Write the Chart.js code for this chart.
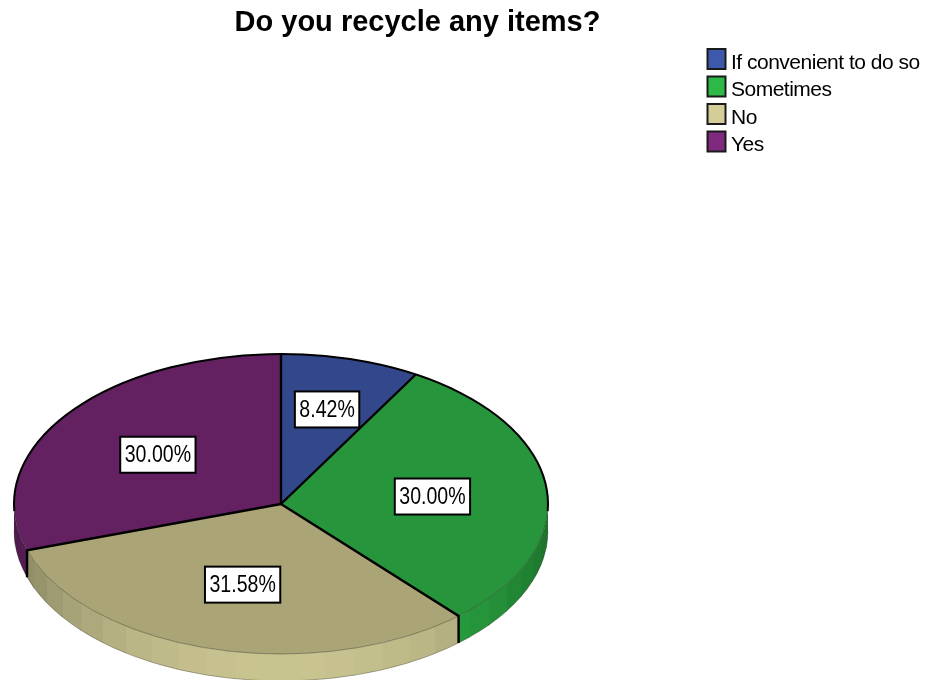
<!DOCTYPE html>
<html>
<head>
<meta charset="utf-8">
<title>Do you recycle any items?</title>
<script src="https://cdn.jsdelivr.net/npm/chart.js@4"></script>
<style>
  html, body { margin: 0; padding: 0; background: #fff; }
  #wrap { position: relative; width: 925px; height: 680px; overflow: hidden; }
</style>
</head>
<body>
<div id="wrap"><canvas id="reciclagemChart" width="925" height="680"></canvas></div>
<script>
const categorias = ['If convenient to do so', 'Sometimes', 'No', 'Yes'];
const percentuais = [8.42, 30.00, 31.58, 30.00];
const coresFatia = ['#32488a', '#26953c', '#aba476', '#632162'];
const coresLegenda = ['#3e58ac', '#2eb848', '#d3ce97', '#7f2a7e'];
const distRotulo = [0.66, 0.57, 0.55, 0.57];

// Geometria do disco inclinado
const disco = { x: 281, y: 504, rx: 267, ry: 150, altura: 27 };
const FONTE = '"Liberation Sans", Arial, sans-serif';
const PASSO_FACETA = Math.PI / 28;
const LEG_PADDING = 6.5;
const LEG_ALTURA_ITEM = 21;

function sombrear(hex, f) {
  const n = parseInt(hex.slice(1), 16);
  const c = [n >> 16, (n >> 8) & 255, n & 255].map(v => Math.round(v * f));
  return `rgb(${c[0]},${c[1]},${c[2]})`;
}

// Luz vem de frente: lateral escurece nas pontas do disco
function luzLateral(a) {
  return 0.6 + 0.35 * Math.pow(Math.max(Math.sin(a), 0), 1.3);
}

function paredeFaceta(ctx, a0, a1, cor) {
  ctx.beginPath();
  ctx.ellipse(disco.x, disco.y, disco.rx, disco.ry, 0, a0, a1);
  ctx.ellipse(disco.x, disco.y + disco.altura, disco.rx, disco.ry, 0, a1, a0, true);
  ctx.closePath();
  ctx.fillStyle = cor;
  ctx.fill();
}

const pizza3d = {
  id: 'pizza3d',
  afterLayout(chart) {
    // Titulo e legenda ficam fora da grade padrao
    chart.titleBlock.left = 0;
    chart.titleBlock.right = 835;
    chart.titleBlock.top = 2;
    chart.legend.left = 700;
    chart.legend.top = 46;

    // Legenda com letras mais juntas
    if (!chart.legend._espacada) {
      const desenhar = chart.legend.draw;
      chart.legend.draw = function () {
        chart.ctx.letterSpacing = '-0.5px';
        desenhar.call(this);
        chart.ctx.letterSpacing = '0px';
      };
      chart.legend._espacada = true;
    }
  },
  beforeDatasetsDraw(chart) {
    const ctx = chart.ctx;
    const arcos = chart.getDatasetMeta(0).data;

    // Lateral do disco, so a metade voltada para frente
    ctx.save();
    arcos.forEach((arco, i) => {
      const ini = Math.max(arco.startAngle, 0);
      const fim = Math.min(arco.endAngle, Math.PI);
      for (let a = ini; a < fim; a += PASSO_FACETA) {
        const b = Math.min(a + PASSO_FACETA, fim);
        // sobrepoe um pouco a faceta seguinte para nao abrir fresta
        paredeFaceta(ctx, a, Math.min(b + 0.01, fim), sombrear(coresLegenda[i], luzLateral((a + b) / 2)));
      }
    });
    ctx.restore();

    // Achata as fatias em elipse
    const ref = arcos[0];
    ctx.save();
    ctx.translate(disco.x, disco.y);
    ctx.scale(disco.rx / ref.outerRadius, disco.ry / ref.outerRadius);
    ctx.translate(-ref.x, -ref.y);
  },
  afterDatasetsDraw(chart) {
    const ctx = chart.ctx;
    const arcos = chart.getDatasetMeta(0).data;
    ctx.restore();

    ctx.save();
    // Contorno fino da base e da borda frontal
    ctx.lineWidth = 1;
    ctx.strokeStyle = 'rgba(50,50,35,0.45)';
    ctx.beginPath();
    ctx.ellipse(disco.x, disco.y, disco.rx, disco.ry, 0, 0, Math.PI);
    ctx.stroke();
    ctx.strokeStyle = 'rgba(50,50,35,0.35)';
    ctx.beginPath();
    ctx.ellipse(disco.x, disco.y + disco.altura, disco.rx, disco.ry, 0, 0, Math.PI);
    ctx.stroke();

    // Aro superior em preto
    ctx.lineWidth = 2;
    ctx.strokeStyle = '#000';
    ctx.beginPath();
    ctx.ellipse(disco.x, disco.y, disco.rx, disco.ry, 0, Math.PI * 0.985, Math.PI * 2.015);
    ctx.stroke();

    // Divisoes das fatias, descendo pela lateral quando visiveis
    ctx.lineWidth = 2.4;
    arcos.forEach(arco => {
      const a = arco.startAngle;
      const px = disco.x + disco.rx * Math.cos(a);
      const py = disco.y + disco.ry * Math.sin(a);
      ctx.beginPath();
      ctx.moveTo(disco.x, disco.y);
      ctx.lineTo(px, py);
      if (Math.sin(a) > 0) ctx.lineTo(px, py + disco.altura);
      ctx.stroke();
    });

    // Rotulos de percentual
    ctx.font = '23px ' + FONTE;
    ctx.textAlign = 'center';
    ctx.textBaseline = 'middle';
    arcos.forEach((arco, i) => {
      const meio = (arco.startAngle + arco.endAngle) / 2;
      const cx = disco.x + disco.rx * distRotulo[i] * Math.cos(meio);
      const cy = disco.y + disco.ry * distRotulo[i] * Math.sin(meio) + 1;
      const texto = percentuais[i].toFixed(2) + '%';
      const largura = ctx.measureText(texto).width * 0.85;
      const w = largura + 9, h = 36;
      ctx.fillStyle = '#fff';
      ctx.fillRect(cx - w / 2, cy - h / 2, w, h);
      ctx.lineWidth = 2;
      ctx.strokeStyle = '#000';
      ctx.strokeRect(cx - w / 2, cy - h / 2, w, h);
      ctx.fillStyle = '#000';
      ctx.fillText(texto, cx, cy + 1, largura);
    });

    // Quadros da legenda: um pouco acima do texto e colados nele
    const leg = chart.legend;
    categorias.forEach((nome, i) => {
      const x = leg.left + LEG_PADDING + 1;
      const y = leg.top + LEG_PADDING - 3.5 + i * (LEG_ALTURA_ITEM + LEG_PADDING);
      ctx.fillStyle = coresLegenda[i];
      ctx.fillRect(x, y, 18, 20);
      ctx.lineWidth = 2;
      ctx.strokeStyle = '#1a1a1a';
      ctx.strokeRect(x, y, 18, 20);
    });
    ctx.restore();
  }
};

new Chart(document.getElementById('reciclagemChart'), {
  type: 'pie',
  data: {
    labels: categorias,
    datasets: [{
      data: percentuais,
      backgroundColor: coresFatia,
      borderWidth: 0,
      hoverOffset: 0,
      clip: false,
      radius: 267
    }]
  },
  options: {
    responsive: false,
    animation: false,
    events: [],
    plugins: {
      tooltip: { enabled: false },
      title: {
        display: true,
        text: 'Do you recycle any items?',
        color: '#000',
        font: { family: FONTE, size: 29, weight: 'bold' },
        padding: { top: 4, bottom: 4 }
      },
      legend: {
        position: 'right',
        align: 'start',
        labels: {
          color: '#000',
          font: { family: FONTE, size: 21 },
          boxWidth: 14,
          boxHeight: LEG_ALTURA_ITEM,
          padding: LEG_PADDING,
          generateLabels: () => categorias.map((nome, i) => ({
            text: nome,
            fillStyle: 'transparent',
            strokeStyle: 'transparent',
            lineWidth: 0,
            fontColor: '#000',
            index: i
          }))
        }
      }
    }
  },
  plugins: [pizza3d]
});
</script>
</body>
</html>
